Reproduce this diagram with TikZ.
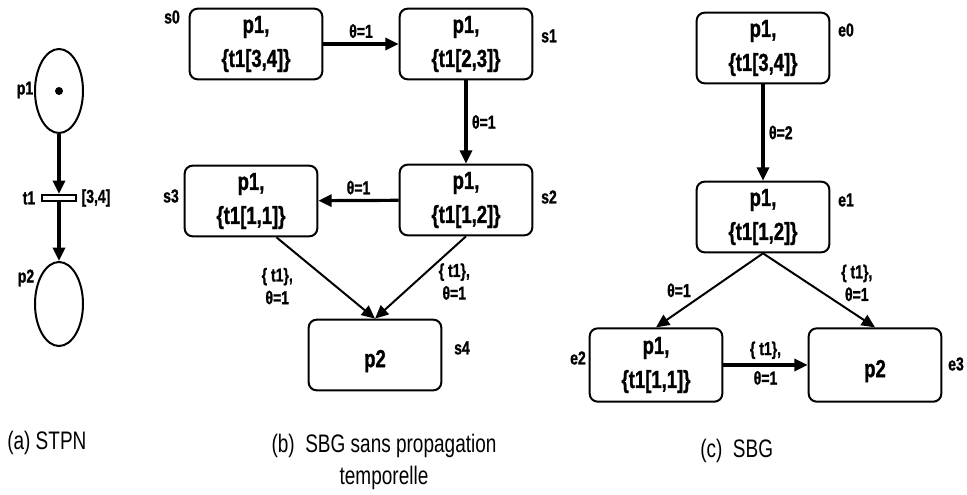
\documentclass[tikz,border=0pt]{standalone}
\usepackage{fontspec}
\setmainfont{Liberation Sans}[FakeStretch=0.75,BoldFeatures={FakeBold=1.2}]
\usetikzlibrary{arrows.meta,shapes.geometric}

\begin{document}
\begin{tikzpicture}
 [x=0.75pt,y=-0.75pt,
  state node/.style={rectangle,rounded corners=6pt,draw,line width=1.5pt,minimum width=99.5pt,minimum height=53pt,align=center,
    font=\fontsize{18.5}{25.5}\selectfont\bfseries,execute at begin node=\rule{0pt}{22pt}},
  end node/.style={state node,execute at begin node=\rule{0pt}{17.5pt}},
  place node/.style={ellipse,draw,line width=1.5pt,minimum width=36pt,minimum height=63pt,inner sep=0pt},
  trans node/.style={rectangle,draw,fill=white,line width=1.5pt,minimum width=26pt,minimum height=4.5pt,inner sep=0pt},
  name label/.style={font=\fontsize{14}{17}\selectfont\bfseries},
  arc/.style={-{Triangle[length=10pt,width=9pt]},line width=2.4pt},
  thin arc/.style={-{Triangle[length=10pt,width=9pt]},line width=1.5pt},
  caption/.style={font=\fontsize{19}{24}\selectfont,align=center,inner sep=0pt}]

\useasboundingbox (0,0) rectangle (967,495);

% (a) the net
\node[place node] (p1) at (59,91) {};
\node[circle,fill,inner sep=0pt,minimum size=6pt] (tok) at (p1) {};
\node[trans node] (t1) at (59,198) {};
\node[place node] (p2) at (59,304) {};
\node[name label] (lp1) at (25,90) {p1};
\node[name label] (lt1) at (29,198) {t1};
\node[name label] (lint) at (96,198) {[3,4]};
\node[name label] (lp2) at (26,278) {p2};

\path
  (p1) edge [arc] (t1)
  (t1) edge [arc] (p2);

% (b) without propagation
\node[state node] (s0) at (256,44) {p1,\\\{t1[3,4]\}};
\node[state node] (s1) at (466,44) {p1,\\\{t1[2,3]\}};
\node[state node] (s2) at (466,200) {p1,\\\{t1[1,2]\}};
\node[state node] (s3) at (251,201) {p1,\\\{t1[1,1]\}};
\node[end node] (s4) at (375,355) {p2};
\node[name label] (ls0) at (172,17) {s0};
\node[name label] (ls1) at (549,36) {s1};
\node[name label] (ls2) at (549,197) {s2};
\node[name label] (ls3) at (171,196) {s3};
\node[name label] (ls4) at (462,348) {s4};

\path
  (s0) edge [arc] node [name label,above] {θ=1} (s1)
  (s1) edge [arc] node [name label,right] {θ=1} (s2)
  (s2) edge [arc] node [name label,above] {θ=1} (s3)
  (s3.-55) edge [thin arc] node [name label,pos=.6,left=28pt,align=center] {\{ t1\},\\θ=1} (s4.north)
  (s2.south) edge [thin arc] node [name label,pos=.55,right=13pt,align=center] {\{ t1\},\\θ=1} (s4.north);

% (c) SBG
\node[state node] (e0) at (763,48) {p1,\\\{t1[3,4]\}};
\node[state node] (e1) at (763,217) {p1,\\\{t1[1,2]\}};
\node[state node,minimum height=55pt] (e2) at (656,365) {p1,\\\{t1[1,1]\}};
\node[end node,minimum height=55pt] (e3) at (875,365) {p2};
\node[name label] (le0) at (846,30) {e0};
\node[name label] (le1) at (846,200) {e1};
\node[name label] (le2) at (578,358) {e2};
\node[name label] (le3) at (956,364) {e3};

\path
  (e0) edge [arc] node [name label,right] {θ=2} (e1)
  (e1.south) edge [thin arc] node [name label,pos=.5,left=10pt] {θ=1} (e2.north)
  (e1.south) edge [thin arc] node [name label,pos=.4,right=21pt,align=center] {\{ t1\},\\θ=1} (e3.north)
  (e2) edge [arc] node [name label,above] {\{ t1\},} node [name label,below] {θ=1} (e3);

% captions
\node[caption,anchor=west] (capa) at (7,443) {(a) STPN};
\node[caption] (capb) at (384,462) {(b)\ \ SBG sans propagation\\temporelle};
\node[caption,anchor=west] (capc) at (700,451) {(c)\ \ SBG};

\end{tikzpicture}
\end{document}
